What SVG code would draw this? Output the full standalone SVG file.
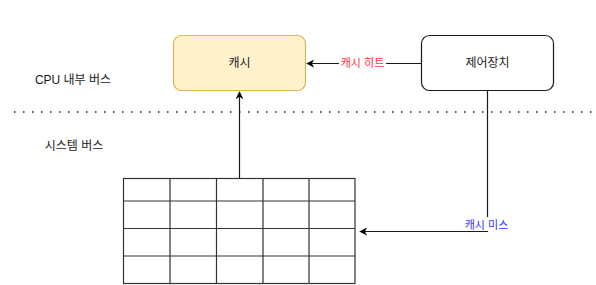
<svg xmlns="http://www.w3.org/2000/svg" width="596" height="285" viewBox="0 0 596 285">
<style>
text{font-family:"Liberation Sans","Noto Sans CJK KR",sans-serif;fill:#1a1a1a}
.n{font-size:12px}
.l{font-size:11px}
.e{fill:none;stroke:#1a1a1a;stroke-width:1.2}
.g{fill:#ffffff;stroke:#333;stroke-width:1.2}
</style>
<defs>
<marker id="ah" viewBox="0 0 10 10" refX="9" refY="5" markerWidth="8" markerHeight="8" markerUnits="userSpaceOnUse" orient="auto">
<path d="M0,0 L10,5 L0,10 L3,5 Z" fill="#000"/>
</marker>
</defs>
<rect width="596" height="285" fill="#fff"/>
<g id="bus-divider">
<line x1="14" y1="112" x2="596" y2="112" stroke="#555" stroke-width="2" stroke-dasharray="1.5 7.5"/>
</g>
<g id="label-cpu-bus"><text class="n" x="73" y="84" text-anchor="middle">CPU 내부 버스</text></g>
<g id="label-system-bus"><text class="n" x="74" y="150" text-anchor="middle">시스템 버스</text></g>
<g id="cache">
<rect x="173.5" y="35.5" width="132" height="55" rx="8" fill="#fff2cc" stroke="#d6b656" stroke-width="1.2"/>
<text class="n" x="239.5" y="67" text-anchor="middle">캐시</text>
</g>
<g id="control">
<rect x="421.5" y="35.5" width="132" height="55" rx="8" fill="#fff" stroke="#1a1a1a" stroke-width="1.2"/>
<text class="n" x="487.5" y="67" text-anchor="middle">제어장치</text>
</g>
<g id="memory">
<rect class="g" x="123.5" y="178.5" width="231.5" height="105"/>
<path class="g" fill="none" d="M170,178.5V283.5M216.5,178.5V283.5M263,178.5V283.5M309,178.5V283.5M123.5,201H355M123.5,228.5H355M123.5,256H355"/>
</g>
<g id="connectors">
<path class="e" d="M421.5,63.5H307" marker-end="url(#ah)"/>
<rect x="339" y="56" width="47" height="15" fill="#fff"/>
<text class="l" x="362.5" y="67" text-anchor="middle" style="fill:#ff3333">캐시 히트</text>
<path class="e" d="M239.5,178.5V92" marker-end="url(#ah)"/>
<path class="e" d="M487.5,90.5V231.5H360" marker-end="url(#ah)"/>
<rect x="463" y="217" width="47" height="14" fill="#fff"/>
<text class="l" x="486.5" y="229" text-anchor="middle" style="fill:#3333ff">캐시 미스</text>
</g>
</svg>
